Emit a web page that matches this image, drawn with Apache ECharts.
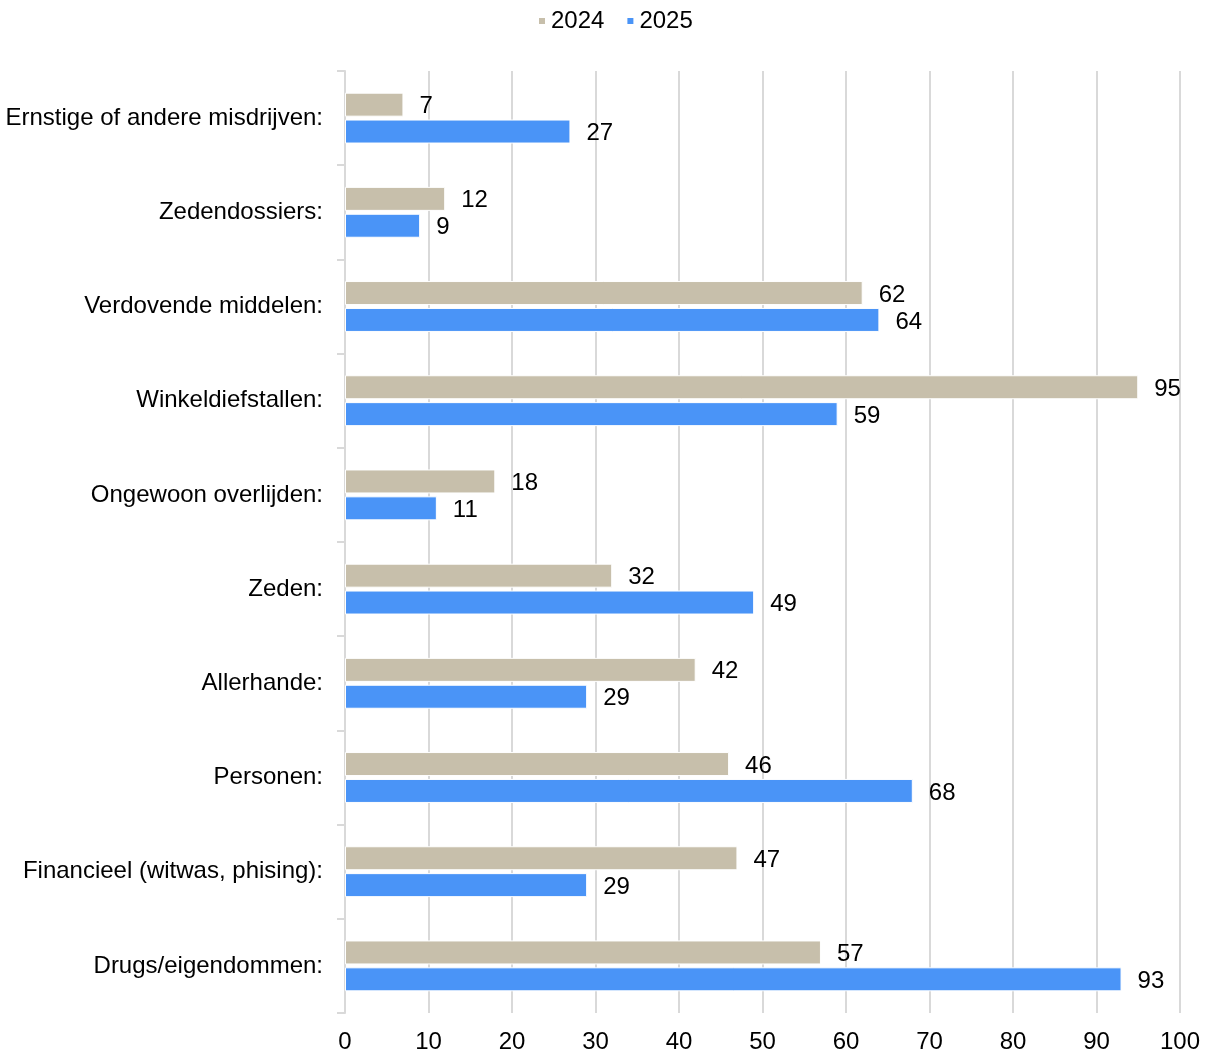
<!DOCTYPE html>
<html><head><meta charset="utf-8">
<script src="https://cdn.jsdelivr.net/npm/echarts@6/dist/echarts.min.js"></script>
<style>html,body{margin:0;padding:0;background:#fff}#c{width:1208px;height:1055px}</style>
</head><body><div id="c"></div>
<script>
const categories = ["Ernstige of andere misdrijven:", "Zedendossiers:", "Verdovende middelen:", "Winkeldiefstallen:", "Ongewoon overlijden:", "Zeden:", "Allerhande:", "Personen:", "Financieel (witwas, phising):", "Drugs/eigendommen:"];
const values2024 = [7, 12, 62, 95, 18, 32, 42, 46, 47, 57];
const values2025 = [27, 9, 64, 59, 11, 49, 29, 68, 29, 93];
const seriesNames = ["2024", "2025"];

const chart = echarts.init(document.getElementById('c'));
const font = 'Arial, "Liberation Sans", sans-serif';
const lbl = {show: true, position: 'right', distance: 16, offset: [0, 2], fontSize: 24, color: '#000', fontFamily: font};
chart.setOption({
  animation: false,
  textStyle: {fontFamily: font},
  legend: {
    top: 4, left: 532, itemWidth: 8, itemHeight: 8, itemGap: 21,
    icon: 'rect',
    textStyle: {fontSize: 24, color: '#000', fontFamily: font},
    data: seriesNames
  },
  grid: {left: 345, right: 28, top: 71, bottom: 42, containLabel: false},
  xAxis: {
    type: 'value', min: 0, max: 100, interval: 10,
    axisLine: {show: false}, axisTick: {show: false},
    splitLine: {show: true, lineStyle: {color: '#d9d9d9', width: 2}},
    axisLabel: {fontSize: 24, color: '#000', margin: 17, fontFamily: font}
  },
  yAxis: {
    type: 'category', inverse: true, data: categories,
    axisLine: {show: true, lineStyle: {color: '#d9d9d9', width: 2}},
    axisTick: {show: true, length: 8, lineStyle: {color: '#d9d9d9', width: 2}},
    axisLabel: {fontSize: 24, color: '#000', margin: 22, fontFamily: font}
  },
  series: [
    {name: seriesNames[0], type: 'bar', data: values2024, barWidth: 24, barGap: '12%',
     itemStyle: {color: '#c7bfab', borderColor: '#fff', borderWidth: 1}, label: lbl},
    {name: seriesNames[1], type: 'bar', data: values2025, barWidth: 24,
     itemStyle: {color: '#4a94f7', borderColor: '#fff', borderWidth: 1}, label: lbl}
  ]
});
</script></body></html>
